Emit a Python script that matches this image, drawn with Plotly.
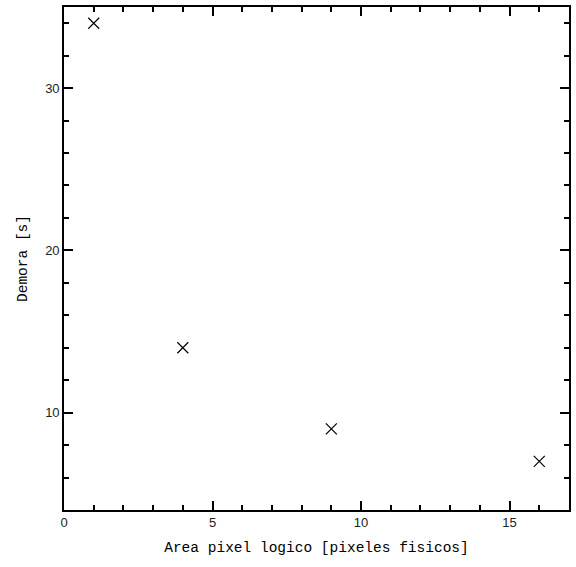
import plotly.graph_objects as go

area = [1, 4, 9, 16]
demora = [34, 14, 9, 7]

x_title = "Area pixel logico [pixeles fisicos]"
y_title = "Demora [s]"

x_range = [0, 17]
y_range = [4, 35]

fig = go.Figure()
fig.add_trace(go.Scatter(
    x=area, y=demora, mode="markers",
    marker=dict(symbol="x-thin", size=11, line=dict(color="black", width=1.2), color="black"),
    showlegend=False, hoverinfo="skip",
))
for k in ("2", "3", "4"):
    fig.add_trace(go.Scatter(x=area, y=demora, mode="markers", marker=dict(opacity=0),
                             xaxis="x" + k, yaxis="y" + k, showlegend=False, hoverinfo="skip"))

title_font = dict(family="Liberation Mono", size=14.5, color="black")
tick_font = dict(family="Liberation Sans", size=13, color="#222")

tick_common = dict(ticks="inside", tickwidth=1.6, tickcolor="black", showgrid=False, zeroline=False)

fig.update_layout(
    width=576, height=567,
    margin=dict(l=64, r=6, t=5, b=57),
    plot_bgcolor="rgba(0,0,0,0)", paper_bgcolor="white",
    xaxis=dict(range=x_range, tickmode="linear", tick0=0, dtick=5, ticklen=9,
               showline=True, linecolor="black", linewidth=1.6, mirror=True,
               tickfont=tick_font, title=dict(text=x_title, font=title_font, standoff=12),
               layer="above traces", **tick_common),
    yaxis=dict(range=y_range, tickmode="linear", tick0=0, dtick=10, ticklen=9,
               showline=True, linecolor="black", linewidth=1.6, mirror=True,
               tickfont=tick_font, title=dict(text=y_title, font=title_font, standoff=14),
               layer="above traces", **tick_common),
    xaxis2=dict(overlaying="x", anchor="y", side="bottom", range=x_range, tickmode="linear",
                tick0=0, dtick=1, ticklen=5, showticklabels=False, showline=False, **tick_common),
    yaxis2=dict(overlaying="y", anchor="x", side="left", range=y_range, tickmode="linear",
                tick0=0, dtick=2, ticklen=5, showticklabels=False, showline=False, **tick_common),
    xaxis3=dict(overlaying="x", anchor="y", side="top", range=x_range, tickmode="linear",
                tick0=0, dtick=5, ticklen=9, showticklabels=False, showline=False, **tick_common),
    yaxis3=dict(overlaying="y", anchor="x", side="right", range=y_range, tickmode="linear",
                tick0=0, dtick=10, ticklen=9, showticklabels=False, showline=False, **tick_common),
    xaxis4=dict(overlaying="x", anchor="y", side="top", range=x_range, tickmode="linear",
                tick0=0, dtick=1, ticklen=5, showticklabels=False, showline=False, **tick_common),
    yaxis4=dict(overlaying="y", anchor="x", side="right", range=y_range, tickmode="linear",
                tick0=0, dtick=2, ticklen=5, showticklabels=False, showline=False, **tick_common),
)
fig.write_html("out.html")
